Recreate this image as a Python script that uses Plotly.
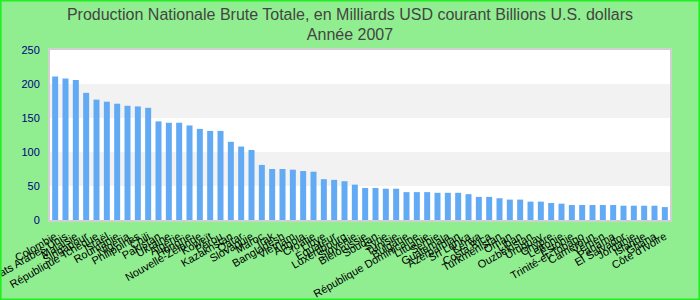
import plotly.graph_objects as go

countries = [
    "Colombie", "Émirats Arabes Unis", "Malaisie", "Singapour", "République Tchèque",
    "Israël", "Roumanie", "Nigeria", "Philippines", "Chili",
    "Pakistan", "Ukraine", "Algérie", "Hongrie", "Nouvelle-Zélande",
    "Koweït", "Pérou", "Kazakhstan", "Qatar", "Slovaquie",
    "Maroc", "Irak", "Bangladesh", "Vietnam", "Angola",
    "Croatie", "Libye", "Équateur", "Luxembourg", "Slovénie",
    "Biélorussie", "Soudan", "Syrie", "Tunisie", "Bulgarie",
    "République Dominicaine", "Lituanie", "Serbie", "Guatemala", "Azerbaïdjan",
    "Sri Lanka", "Kenya", "Costa Rica", "Turkménistan", "Oman",
    "Liban", "Ouzbékistan", "Uruguay", "Chypre", "Lettonie",
    "Estonie", "Trinité-et-Tobago", "Cameroun", "Yémen", "Panama",
    "El Salvador", "Jordanie", "Islande", "Ghana", "Côte d'Ivoire",
]
values = [
    211, 208, 206, 187, 177, 174, 171, 168, 167, 165,
    145, 143, 143, 139, 134, 131, 131, 115, 108, 103,
    81, 75, 75, 74, 72, 71, 60, 59, 57, 52,
    47, 47, 46, 46, 41, 41, 41, 40, 40, 40,
    38, 34, 34, 32, 30, 30, 27, 27, 25, 24,
    22, 22, 22, 22, 22, 21, 21, 21, 21, 19,
]
band_ranges = [(50, 100), (150, 200)]
y_ticks = [0, 50, 100, 150, 200, 250]

W, H = 700, 300
ML, MR, MT, MB = 50, 30, 50, 80

fig = go.Figure()
fig.add_trace(go.Bar(
    x=countries, y=values,
    marker=dict(color="#62aaf4", line=dict(width=0)),
))

for lo, hi in band_ranges:
    fig.add_shape(type="rect", xref="paper", yref="y", x0=0, x1=1, y0=lo, y1=hi,
                  fillcolor="#f2f2f2", line=dict(width=0), layer="below")

pw = W - ML - MR
ph = H - MT - MB
fig.add_shape(type="rect", xref="paper", yref="paper",
              x0=-ML / pw + 0.001, x1=1 + MR / pw - 0.001,
              y0=-MB / ph + 0.003, y1=1 + MT / ph - 0.003,
              line=dict(color="#22ee22", width=2), fillcolor="rgba(0,0,0,0)")

fig.update_layout(
    width=W, height=H,
    margin=dict(l=ML, r=MR, t=MT, b=MB, autoexpand=False),
    paper_bgcolor="#90ee90",
    plot_bgcolor="#ffffff",
    bargap=0.42,
    showlegend=False,
    title=dict(
        text="Production Nationale Brute Totale, en Milliards USD courant Billions U.S. dollars<br>Année 2007",
        x=0.5, xanchor="center", xref="container", yref="container", y=0.935, yanchor="top",
        font=dict(family="Liberation Sans Narrow, Arial Narrow, Liberation Sans, Arial", size=16, color="#444444"),
    ),
    xaxis=dict(
        automargin=False,
        tickmode="linear", dtick=1,
        tickangle=-30,
        tickfont=dict(family="Liberation Sans, Arial", size=11, color="#000000"),
        showline=True, linecolor="#d0d0d0", linewidth=2, mirror=True,
        ticks="outside", ticklen=4, tickcolor="rgba(0,0,0,0)",
        showgrid=False,
    ),
    yaxis=dict(
        automargin=False,
        range=[0, 250],
        tickvals=y_ticks,
        tickfont=dict(family="Liberation Sans, Arial", size=11, color="#000080"),
        showline=True, linecolor="#d0d0d0", linewidth=2, mirror=True,
        ticks="outside", ticklen=6, tickcolor="rgba(0,0,0,0)",
        showgrid=False, zeroline=False,
    ),
)

fig.write_html("out.html")
